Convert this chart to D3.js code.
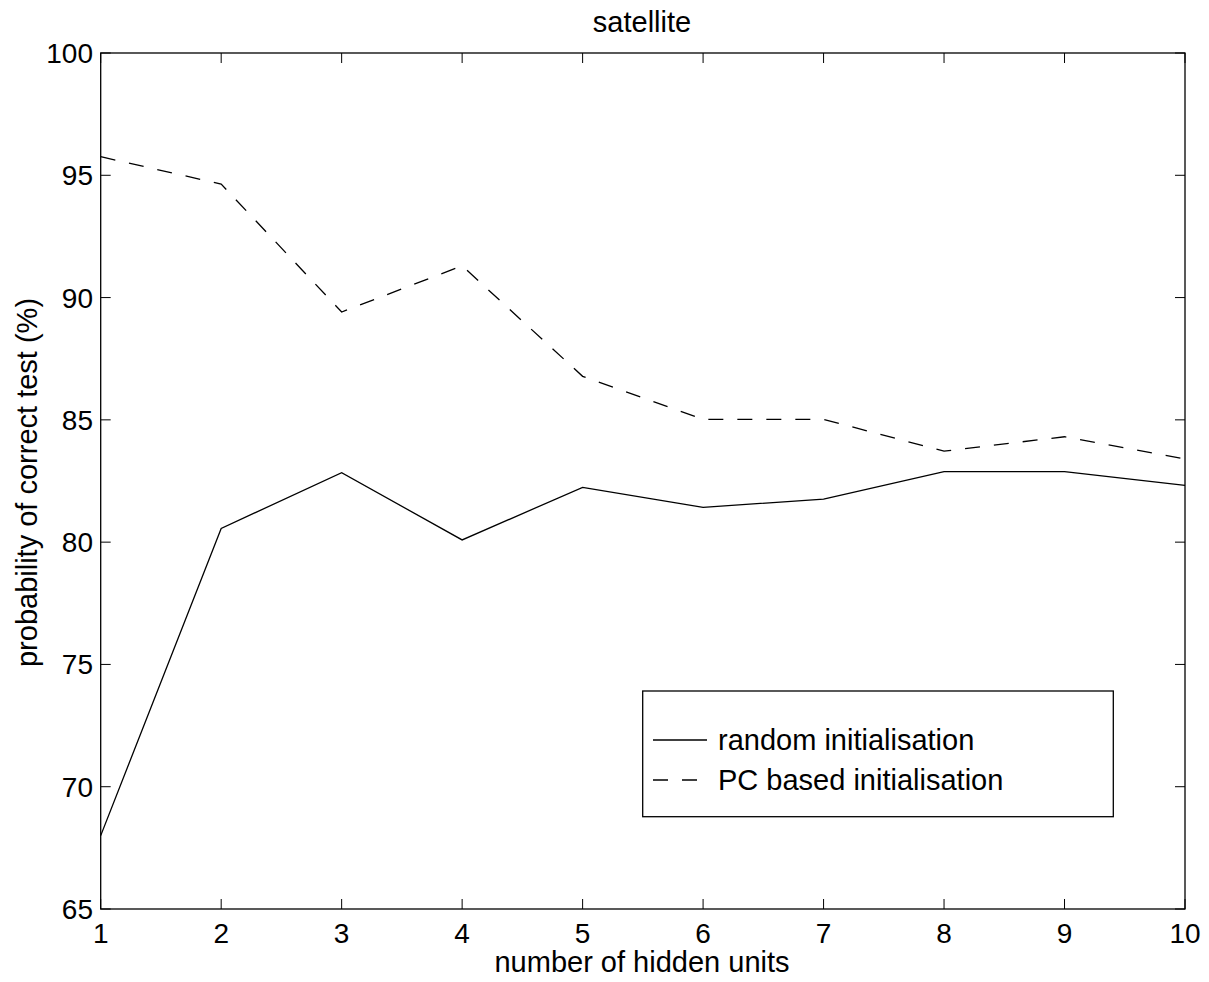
<!DOCTYPE html>
<html>
<head>
<meta charset="utf-8">
<script src="https://cdn.jsdelivr.net/npm/d3@7"></script>
<style>
  html, body { margin: 0; padding: 0; background: #fff; }
  svg text { font-family: "Liberation Sans", Arial, Helvetica, sans-serif; fill: #000; }
</style>
</head>
<body>
<svg id="chart" width="1209" height="982"></svg>
<script>
const hiddenUnits = [1, 2, 3, 4, 5, 6, 7, 8, 9, 10];
const randomInit = [68.0, 80.56, 82.84, 80.09, 82.24, 81.42, 81.76, 82.88, 82.88, 82.32];
const pcInit = [95.76, 94.64, 89.41, 91.3, 86.78, 85.02, 85.02, 83.72, 84.31, 83.40];
const xTicks = [1, 2, 3, 4, 5, 6, 7, 8, 9, 10];
const yTicks = [65, 70, 75, 80, 85, 90, 95, 100];
const seriesNames = ["random initialisation", "PC based initialisation"];

const svg = d3.select("#chart");
const L = 100.7, R = 1185, T = 53, B = 909;
const x = d3.scaleLinear().domain([1, 10]).range([L, R]);
const y = d3.scaleLinear().domain([65, 100]).range([B, T]);
const fs = 29;
const tickLen = 10;

// Axis box
svg.append("rect").attr("x", L).attr("y", T).attr("width", R - L).attr("height", B - T)
  .attr("fill", "none").attr("stroke", "#000").attr("stroke-width", 1.3);

// Ticks (inward, on all four sides)
const tg = svg.append("g").attr("stroke", "#000").attr("stroke-width", 1);
xTicks.forEach(v => {
  tg.append("line").attr("x1", x(v)).attr("x2", x(v)).attr("y1", B).attr("y2", B - tickLen);
  tg.append("line").attr("x1", x(v)).attr("x2", x(v)).attr("y1", T).attr("y2", T + tickLen);
});
yTicks.forEach(v => {
  tg.append("line").attr("x1", L).attr("x2", L + tickLen).attr("y1", y(v)).attr("y2", y(v));
  tg.append("line").attr("x1", R).attr("x2", R - tickLen).attr("y1", y(v)).attr("y2", y(v));
});

// Tick labels
svg.append("g").selectAll("text").data(xTicks).join("text")
  .attr("x", d => x(d)).attr("y", 943).attr("text-anchor", "middle")
  .attr("font-size", 28).text(d => d);
svg.append("g").selectAll("text").data(yTicks).join("text")
  .attr("x", 93).attr("y", d => y(d) + 10).attr("text-anchor", "end")
  .attr("font-size", 28).text(d => d);

// Title & axis labels
svg.append("text").attr("x", 642).attr("y", 32).attr("text-anchor", "middle")
  .attr("font-size", 29).text("satellite");
svg.append("text").attr("x", 642).attr("y", 972).attr("text-anchor", "middle")
  .attr("font-size", fs).text("number of hidden units");
svg.append("text").attr("transform", `translate(37, 482.5) rotate(-90)`)
  .attr("text-anchor", "middle").attr("font-size", 29).text("probability of correct test (%)");

// Lines
const line = d3.line().x((d, i) => x(hiddenUnits[i])).y(d => y(d));
svg.append("path").datum(randomInit).attr("d", line)
  .attr("fill", "none").attr("stroke", "#000").attr("stroke-width", 1.3);
svg.append("path").datum(pcInit).attr("d", line)
  .attr("fill", "none").attr("stroke", "#000").attr("stroke-width", 1.3)
  .attr("stroke-dasharray", "15,14");

// Legend
const lg = svg.append("g");
lg.append("rect").attr("x", 642.7).attr("y", 691).attr("width", 470.6).attr("height", 125.7)
  .attr("fill", "#fff").attr("stroke", "#000").attr("stroke-width", 1.3);
lg.append("line").attr("x1", 653).attr("x2", 707).attr("y1", 740).attr("y2", 740)
  .attr("stroke", "#000").attr("stroke-width", 1.3);
lg.append("line").attr("x1", 653).attr("x2", 707).attr("y1", 780).attr("y2", 780)
  .attr("stroke", "#000").attr("stroke-width", 1.3).attr("stroke-dasharray", "15,14");
seriesNames.forEach((n, i) => {
  lg.append("text").attr("x", 718).attr("y", 750 + i * 40).attr("font-size", fs).text(n);
});
</script>
</body>
</html>
